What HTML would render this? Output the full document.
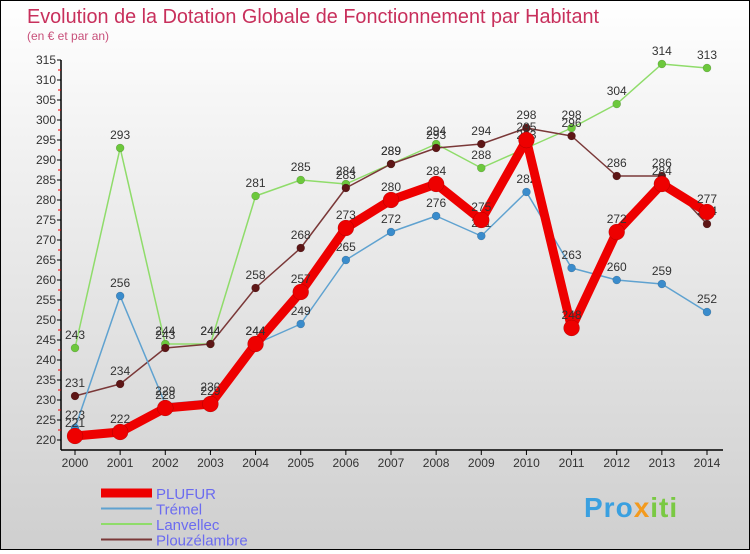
<!DOCTYPE html>
<html><head><meta charset="utf-8"><style>
html,body{margin:0;padding:0;}
body{width:750px;height:550px;overflow:hidden;font-family:"Liberation Sans",sans-serif;}
#wrap{position:relative;width:748px;height:548px;border:1px solid #000;background:linear-gradient(#ffffff,#f0f0f0 30%,#cfcfcf);}
</style></head><body>
<div id="wrap">
<svg id="chart" width="748" height="548" viewBox="0 0 748 548">
<text x="26" y="22" font-size="20" fill="#c8305c" textLength="572" lengthAdjust="spacingAndGlyphs">Evolution de la Dotation Globale de Fonctionnement par Habitant</text>
<text x="26" y="39" font-size="12" fill="#c8507a">(en € et par an)</text>
<g id="axes"></g>
<g id="series"></g>
<g id="legend"></g>
<g>
<text x="583" y="516" font-size="28" font-weight="bold" fill="#3aa0e0" letter-spacing="1">Pro<tspan fill="#f39a1e">x</tspan><tspan fill="#7ac943">iti</tspan></text>
</g>
</svg>
</div>
<script>
const years = [2000,2001,2002,2003,2004,2005,2006,2007,2008,2009,2010,2011,2012,2013,2014];
const plufur = [221,222,228,229,244,257,273,280,284,275,295,248,272,284,277];
const tremel = [223,256,229,230,244,249,265,272,276,271,282,263,260,259,252];
const lanvellec = [243,293,244,244,281,285,284,289,294,288,293,298,304,314,313];
const plouzelambre = [231,234,243,244,258,268,283,289,293,294,298,296,286,286,274];
const yTicks = [220,225,230,235,240,245,250,255,260,265,270,275,280,285,290,295,300,305,310,315];
const NS="http://www.w3.org/2000/svg";
function x(i){return 74+i*(632/14);}
function y(v){return 439-(v-220)*4;}
function mk(tag,attrs,parent){const e=document.createElementNS(NS,tag);for(const k in attrs)e.setAttribute(k,attrs[k]);parent.appendChild(e);return e;}
const axes=document.getElementById('axes');
let a=mk('line',{x1:60,y1:y(315),x2:60,y2:449,stroke:'#000','stroke-width':1.5},axes);


a=mk('line',{x1:60,y1:449,x2:722,y2:449,stroke:'#000','stroke-width':1.5},axes);


yTicks.forEach(v=>{
  mk('line',{x1:56,y1:y(v),x2:60,y2:y(v),stroke:'#000'},axes);
  if(v<315) mk('line',{x1:57,y1:y(v+2.5),x2:60,y2:y(v+2.5),stroke:'#e00'},axes);
  const t=mk('text',{x:55,y:y(v)+4,'font-size':12,'text-anchor':'end',fill:'#333'},axes);
  t.textContent=v;
  
  
});
years.forEach((yr,i)=>{
  mk('line',{x1:x(i),y1:449,x2:x(i),y2:454,stroke:'#000'},axes);
  const t=mk('text',{x:x(i),y:466,'font-size':12,'text-anchor':'middle',fill:'#333'},axes);
  t.textContent=yr;
  
  
});
const series=[
 {name:'Lanvellec',data:lanvellec,color:'#8fdc6a',dot:'#6cc83c',w:1.5,r:4},
 {name:'Plouzélambre',data:plouzelambre,color:'#7a3838',dot:'#5e1616',w:1.5,r:4},
 {name:'Trémel',data:tremel,color:'#5fa2d0',dot:'#3a8ccc',w:1.5,r:4},
 {name:'PLUFUR',data:plufur,color:'#ee0000',dot:'#ee0000',w:9,r:8}
];
const sg=document.getElementById('series');
series.forEach(s=>{
  const g=mk('g',{},sg);
  
  
  const p=mk('polyline',{points:s.data.map((v,i)=>x(i)+','+y(v)).join(' '),fill:'none',stroke:s.color,'stroke-width':s.w,'stroke-linejoin':'round'},g);
  
  
  s.data.forEach((v,i)=>{
    const c=mk('circle',{cx:x(i),cy:y(v),r:s.r,fill:s.dot,stroke:'rgba(0,0,0,0.25)','stroke-width':0.5},g);
    
    
    const t=mk('text',{x:x(i),y:y(v)-9,'font-size':12,'text-anchor':'middle',fill:'#333'},g);
    t.textContent=v;
    
    
  });
});
const lg=document.getElementById('legend');
const leg=[['PLUFUR','#ee0000',9],['Trémel','#5fa2d0',2],['Lanvellec','#8fdc6a',2],['Plouzélambre','#7a3838',2]];
leg.forEach((l,i)=>{
  const yy=492+i*15.5;
  const g=mk('g',{},lg);
  
  
  mk('line',{x1:100,y1:yy,x2:151,y2:yy,stroke:l[1],'stroke-width':l[2]},g);
  const t=mk('text',{x:155,y:yy+6,'font-size':15,fill:'#6b6bf0'},g);
  t.textContent=l[0];
  
  
});
</script>
</body></html>
